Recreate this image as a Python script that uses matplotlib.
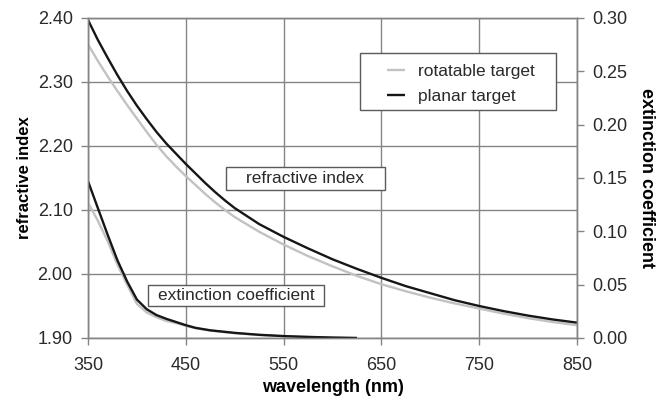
import numpy as np
import matplotlib
matplotlib.use("Agg")
import matplotlib.pyplot as plt
from matplotlib.patches import Rectangle

plt.rcParams['font.family'] = ['Liberation Sans', 'DejaVu Sans']

# refractive index vs wavelength (nm)
wl = [350, 360, 370, 380, 390, 400, 410, 420, 430, 440, 450, 460, 470, 480, 490, 500,
      525, 550, 575, 600, 625, 650, 675, 700, 725, 750, 775, 800, 825, 850]
n_rot = [2.359, 2.333, 2.309, 2.286, 2.264, 2.243, 2.222, 2.202, 2.184, 2.168, 2.153,
         2.139, 2.125, 2.112, 2.100, 2.089, 2.066, 2.046, 2.028, 2.012, 1.997, 1.984,
         1.973, 1.963, 1.954, 1.946, 1.938, 1.931, 1.925, 1.920]
n_pla = [2.397, 2.366, 2.338, 2.311, 2.286, 2.263, 2.242, 2.222, 2.204, 2.188, 2.172,
         2.157, 2.142, 2.128, 2.115, 2.103, 2.078, 2.058, 2.040, 2.023, 2.008, 1.994,
         1.981, 1.970, 1.959, 1.950, 1.942, 1.935, 1.929, 1.924]

# extinction coefficient (only up to ~625 nm)
wl_k = [350, 360, 370, 380, 390, 400, 410, 420, 430, 440, 450, 460, 475, 500, 525,
        550, 575, 600, 625]
k_rot = [0.127, 0.110, 0.091, 0.069, 0.050, 0.032, 0.024, 0.0195, 0.016, 0.014,
         0.0115, 0.0092, 0.007, 0.0045, 0.0028, 0.0017, 0.001, 0.0004, 0.0]
k_pla = [0.147, 0.122, 0.097, 0.073, 0.053, 0.036, 0.027, 0.0215, 0.018, 0.015,
         0.012, 0.0095, 0.0072, 0.0048, 0.003, 0.0018, 0.001, 0.0004, 0.0]

xticks = [350, 450, 550, 650, 750, 850]
n_ticks = [1.90, 2.00, 2.10, 2.20, 2.30, 2.40]
k_ticks = [0.00, 0.05, 0.10, 0.15, 0.20, 0.25, 0.30]

grey = '#c2c2c2'
black = '#161616'
gridc = '#858585'
txtc = '#2a2a2a'

fig = plt.figure(figsize=(6.67, 3.98), dpi=100)
ax = fig.add_axes([88 / 667, 60 / 398, 489 / 667, 320 / 398])
ax2 = ax.twinx()

kw = dict(lw=1.7, solid_joinstyle='round', solid_capstyle='butt')
ax.plot(wl, n_rot, color=grey, label='rotatable target', **kw)
ax.plot(wl, n_pla, color=black, label='planar target', **kw)
ax2.plot(wl_k, k_rot, color=grey, **kw)
ax2.plot(wl_k, k_pla, color=black, **kw)

ax.set_xlim(350, 850)
ax.set_ylim(1.90, 2.40)
ax2.set_ylim(0, 0.30)
ax.set_xticks(xticks)
ax.set_yticks(n_ticks)
ax.set_yticklabels(['%.2f' % v for v in n_ticks])
ax2.set_yticks(k_ticks)
ax2.set_yticklabels(['%.2f' % v for v in k_ticks])

ax.grid(True, color=gridc, lw=1.0)
ax.set_axisbelow(True)
for a in (ax, ax2):
    for s in a.spines.values():
        s.set_color(gridc)
        s.set_linewidth(1.0)
    a.tick_params(direction='out', length=5, width=1.0, color=gridc,
                  labelsize=13, labelcolor=txtc)
ax.tick_params(axis='y', pad=6)
ax.tick_params(axis='x', pad=9)
ax2.tick_params(axis='y', pad=6)

ax.set_xlabel('wavelength (nm)', fontsize=13, fontweight='bold', labelpad=3)
ax.set_ylabel('refractive index', fontsize=12, fontweight='bold', labelpad=4)
ax2.set_ylabel('extinction coefficient', fontsize=13, fontweight='bold',
               rotation=270, labelpad=20)

# legend frame drawn separately so the box can be wider than the entries
ax.add_patch(Rectangle((0.556, 0.7125), 0.401, 0.1785, transform=ax.transAxes,
                       fc='white', ec='#5a5a5a', lw=1.0, zorder=5))
leg = ax.legend(loc='center left', bbox_to_anchor=(0.611, 0.794), fontsize=12.5,
                frameon=False, handlelength=1.05, handletextpad=0.75,
                borderpad=0, borderaxespad=0, labelspacing=0.6)
leg.set_zorder(6)
for t in leg.get_texts():
    t.set_color(txtc)

# annotation boxes
ax.add_patch(Rectangle((0.282, 0.4625), 0.325, 0.0715, transform=ax.transAxes,
                       fc='white', ec='#5a5a5a', lw=1.0, zorder=5))
ax.text(0.4445, 0.498, 'refractive index', transform=ax.transAxes, fontsize=12.5,
        color=txtc, va='center', ha='center', zorder=6)
ax.add_patch(Rectangle((0.1227, 0.10), 0.36, 0.0656, transform=ax.transAxes,
                       fc='white', ec='#5a5a5a', lw=1.0, zorder=5))
ax.text(0.3027, 0.1328, 'extinction coefficient', transform=ax.transAxes,
        fontsize=12.5, color=txtc, va='center', ha='center', zorder=6)

fig.savefig('out.png', dpi=100)
